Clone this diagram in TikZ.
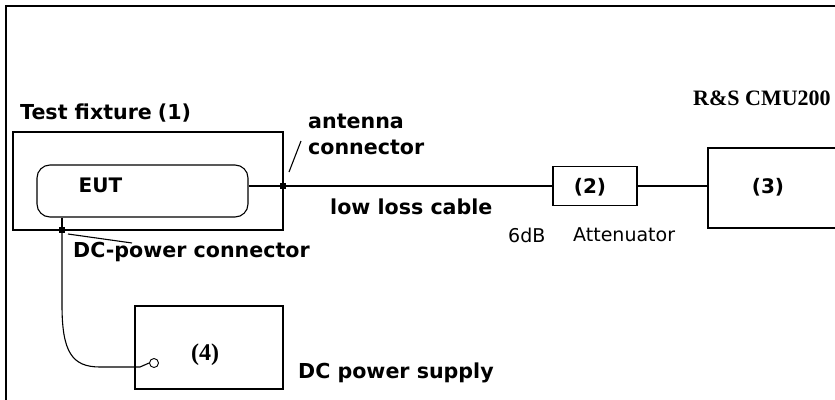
\documentclass[tikz,border=0pt]{standalone}
\usepackage{fontspec}
\setmainfont{DejaVu Sans}
\newfontfamily\serifbf{Liberation Serif}
\usetikzlibrary{positioning, calc}
\tikzset{
  box/.style    = {rectangle, draw=black, line width=1.1pt, inner sep=0pt},
  eutbox/.style = {box, rounded corners=13pt},
  conn/.style   = {rectangle, fill=black, minimum size=6pt, inner sep=0pt},
  pin/.style    = {circle, draw=black, line width=0.9pt, minimum size=9pt, inner sep=0pt},
  lbl/.style    = {font=\fontsize{20.6}{26}\selectfont\bfseries, inner sep=0pt, anchor=west, align=left},
  sml/.style    = {font=\fontsize{19}{20}\selectfont, inner sep=0pt, anchor=west},
  num/.style    = {font=\fontsize{20}{22}\selectfont\bfseries, inner sep=0pt},
  rsnum/.style  = {font=\serifbf\bfseries\fontsize{22}{24}\selectfont, inner sep=0pt},
  wire/.style   = {line width=1.1pt},
}
\begin{document}
\begin{tikzpicture}[x=1pt, y=-1pt]
  \clip (0,0) rectangle (835,399);
  \fill[white] (0,0) rectangle (835,399);
  % outer frame, open to the right and bottom
  \draw[wire] (6,420) -- (6,6) -- (860,6);
  % boxes
  \node[box, minimum width=270pt, minimum height=98pt] (fixture) at (148,181) {};
  \node[eutbox, minimum width=211pt, minimum height=52pt] (eut) at (142.5,191) {};
  \node[box, minimum width=84pt, minimum height=39pt] (att) at (595,186) {};
  \node[box, minimum width=160pt, minimum height=80pt] (cmu) at (788,188) {};
  \node[box, minimum width=148pt, minimum height=83pt] (psu) at (209,347.5) {};
  % connectors
  \node[conn] (antcon) at (283,186) {};
  \node[conn] (dccon) at (62,230) {};
  \node[pin] (psupin) at (154,363) {};
  % texts
  \node[lbl] (tfix) at (20,113) {Test fixture\hspace{6pt}(1)};
  \node[num] (teut) at (100.5,185) {EUT};
  \node[lbl] (tant) at (308,134) {antenna\\connector};
  \node[lbl] (tcable) at (330,207) {low loss cable};
  \node[sml] (tdb) at (508,235) {6dB};
  \node[sml] (tatt) at (573,235) {Attenuator};
  \node[num] (tn2) at (590,187) {(2)};
  \node[num] (tn3) at (768,187) {(3)};
  \node[rsnum, anchor=west] (tcmu) at (693,98) {R\&S CMU200};
  \node[lbl] (tdccon) at (73,252) {DC-power connector};
  \node[rsnum, font=\serifbf\bfseries\fontsize{24}{26}\selectfont] (tn4) at (205,355) {(4)};
  \node[lbl] (tpsu) at (298,373) {DC power supply};
  % wiring
  \draw[wire] (antcon -| eut.east) -- (antcon) -- (att.west |- antcon);
  \draw[wire] (att.east) -- (cmu.west |- att.east);
  \draw[wire] (eut.south -| dccon) -- (dccon);
  \draw[wire] (dccon) -- (62,305) .. controls (62,352) and (72,367) .. (100,367) -- (140,367) -- (psupin.west);
  % pointer lines
  \draw[wire] ($(antcon)+(6,-14)$) -- ($(antcon)+(18,-45)$);
  \draw[wire] ($(dccon)+(6,4)$) -- ($(dccon)+(70,13)$);
\end{tikzpicture}
\end{document}
